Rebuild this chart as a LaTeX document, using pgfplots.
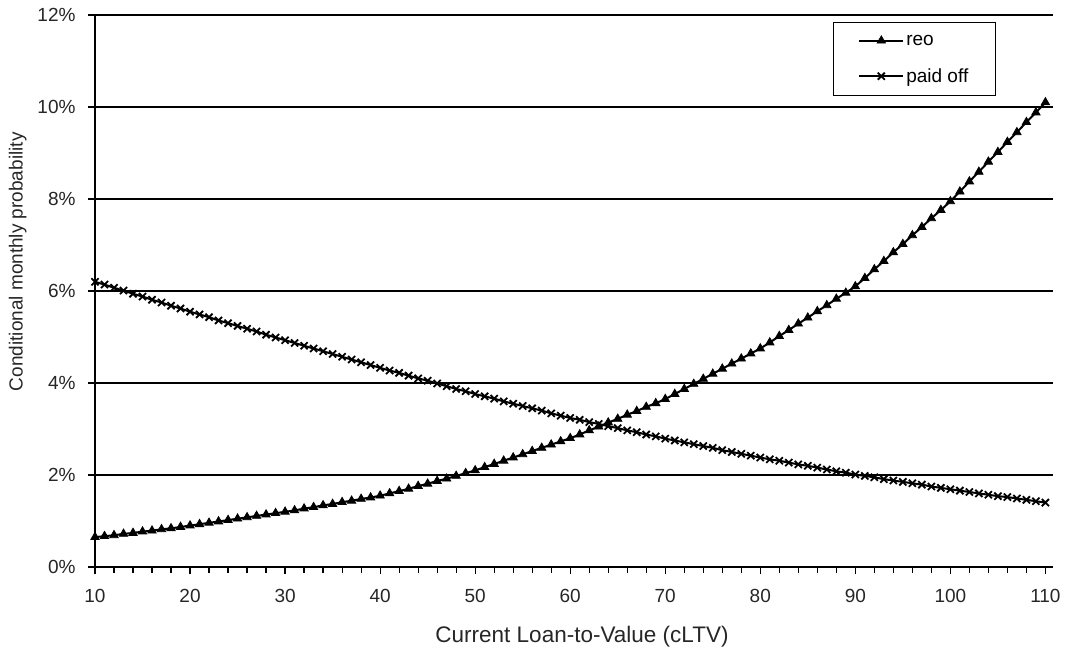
\documentclass[border=0pt]{standalone}
\usepackage{pgfplots}
\pgfplotsset{compat=1.18}
\usepackage{fontspec}
\setmainfont{Liberation Sans}

% conditional monthly probabilities (%) by current LTV
\pgfplotstableread{
x reo paid
10 0.65 6.20
11 0.67 6.14
12 0.69 6.07
13 0.72 6.01
14 0.74 5.94
15 0.77 5.88
16 0.79 5.81
17 0.82 5.75
18 0.84 5.68
19 0.87 5.62
20 0.90 5.55
21 0.93 5.49
22 0.96 5.43
23 0.99 5.36
24 1.02 5.30
25 1.05 5.24
26 1.08 5.18
27 1.11 5.12
28 1.14 5.05
29 1.17 4.99
30 1.20 4.93
31 1.23 4.87
32 1.27 4.81
33 1.30 4.75
34 1.34 4.69
35 1.37 4.63
36 1.41 4.57
37 1.44 4.51
38 1.48 4.45
39 1.51 4.39
40 1.55 4.33
41 1.60 4.27
42 1.65 4.22
43 1.70 4.16
44 1.76 4.10
45 1.81 4.05
46 1.87 3.99
47 1.92 3.93
48 1.98 3.87
49 2.04 3.82
50 2.10 3.76
51 2.17 3.71
52 2.24 3.66
53 2.31 3.60
54 2.38 3.55
55 2.45 3.50
56 2.52 3.45
57 2.59 3.40
58 2.66 3.34
59 2.73 3.29
60 2.80 3.24
61 2.88 3.20
62 2.97 3.15
63 3.05 3.11
64 3.14 3.06
65 3.22 3.02
66 3.31 2.97
67 3.39 2.93
68 3.48 2.88
69 3.56 2.84
70 3.65 2.79
71 3.76 2.75
72 3.87 2.71
73 3.98 2.67
74 4.09 2.63
75 4.20 2.59
76 4.31 2.54
77 4.42 2.50
78 4.53 2.46
79 4.64 2.42
80 4.75 2.38
81 4.88 2.34
82 5.02 2.31
83 5.15 2.27
84 5.29 2.23
85 5.42 2.20
86 5.56 2.16
87 5.69 2.12
88 5.83 2.08
89 5.96 2.05
90 6.10 2.01
91 6.28 1.98
92 6.47 1.95
93 6.65 1.91
94 6.84 1.88
95 7.02 1.85
96 7.21 1.82
97 7.39 1.79
98 7.58 1.75
99 7.76 1.72
100 7.95 1.69
101 8.16 1.66
102 8.38 1.63
103 8.59 1.60
104 8.81 1.57
105 9.02 1.54
106 9.24 1.52
107 9.45 1.49
108 9.67 1.46
109 9.88 1.43
110 10.10 1.40
}\ltvdata

\begin{document}
\begin{tikzpicture}
\begin{axis}[
    name=ax,
    scale only axis,
    width=958pt, height=552pt,
    xmin=10, xmax=110.8,
    ymin=0, ymax=12,
    axis x line*=bottom,
    axis y line*=left,
    axis line style={black, line width=1.4pt},
    xtick={10,20,...,110},
    xticklabels={10,20,30,40,50,60,70,80,90,100,110},
    minor xtick={12,14,...,108},
    ytick={0,2,...,12},
    yticklabels={0\%,2\%,4\%,6\%,8\%,10\%,12\%},
    tick align=outside,
    major tick length=7pt,
    minor tick length=6pt,
    tick style={black, line width=1.2pt},
    ymajorgrids=true,
    grid style={black, line width=1.3pt},
    tick label style={font=\fontsize{19}{23}\selectfont, text=black!85},
    xticklabel style={yshift=-12pt},
    yticklabel style={xshift=-9pt},
    xlabel={Current Loan-to-Value (cLTV)},
    ylabel={Conditional monthly probability},
    xlabel style={font=\fontsize{22.5}{26}\selectfont, text=black!85,
        yshift=-16pt, xshift=8pt},
    ylabel style={font=\fontsize{19}{23}\selectfont, text=black!85,
        at={(ticklabel cs:0.553)}, yshift=4pt},
    clip=false,
    legend style={
        at={(0.770,0.987)}, anchor=north west,
        draw=black, line width=1.3pt,
        font=\fontsize{19}{22}\selectfont,
        inner xsep=25pt, inner ysep=10pt,
        row sep=18pt,
    },
    legend cell align=left,
    legend image code/.code={
        \draw[mark repeat=2, mark phase=2, #1]
            plot coordinates {(0pt,0pt) (22pt,0pt) (44pt,0pt)};
    },
]
\addplot[black, line width=2pt, mark=triangle*, mark size=4.8pt,
    mark options={solid, line width=0.8pt}]
    table[x=x, y=reo] {\ltvdata};
\addlegendentry{reo}
\addplot[black, line width=2pt, mark=x, mark size=5pt,
    mark options={solid, line width=1.8pt}]
    table[x=x, y=paid] {\ltvdata};
\addlegendentry{paid off}
\end{axis}
\pgfresetboundingbox
\path[use as bounding box] ([xshift=-95pt, yshift=-83pt]ax.south west)
    rectangle ([xshift=17pt, yshift=15pt]ax.north east);
\end{tikzpicture}
\end{document}
